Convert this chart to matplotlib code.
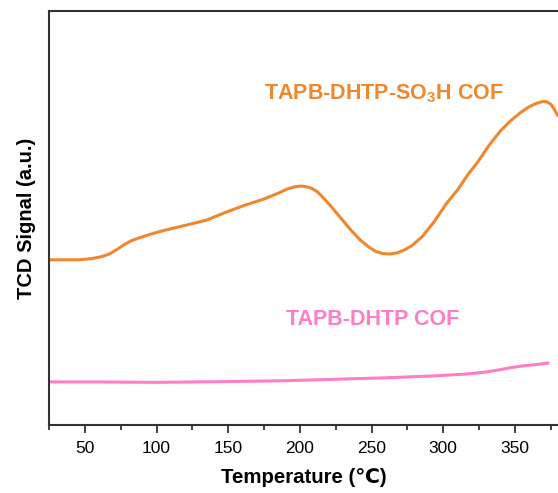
import numpy as np
import matplotlib.pyplot as plt

plt.rcParams['font.family'] = ['Liberation Sans', 'DejaVu Sans']
plt.rcParams['mathtext.fontset'] = 'custom'
plt.rcParams['mathtext.rm'] = 'Liberation Sans'
plt.rcParams['mathtext.bf'] = 'Liberation Sans:bold'

# TCD signal (arbitrary units)
temp_so3h = [25, 46, 55, 62, 67, 71, 75, 79, 83, 88, 95, 103, 110, 121, 135, 147, 160,
             175, 185, 191, 196, 200, 204, 208, 212, 216, 221, 228, 235, 242, 248, 253,
             258, 263, 268, 273, 278, 285, 293, 302, 310, 317, 324, 332, 340, 347, 354,
             360, 365, 369, 372, 375, 377, 380]
sig_so3h = [39.9, 39.9, 40.2, 40.7, 41.3, 42.1, 43.0, 43.9, 44.6, 45.2, 46.0, 46.8, 47.4,
            48.3, 49.5, 51.2, 52.9, 54.6, 56.0, 57.0, 57.5, 57.7, 57.6, 57.2, 56.4, 55.0,
            53.1, 50.2, 47.3, 44.7, 43.0, 41.9, 41.4, 41.3, 41.6, 42.3, 43.3, 45.4, 48.8,
            53.4, 56.8, 60.4, 63.5, 67.6, 71.1, 73.5, 75.5, 76.9, 77.7, 78.1, 78.1, 77.5,
            76.5, 74.6]

temp_dhtp = [25, 60, 100, 150, 190, 230, 260, 290, 316, 330, 340, 348, 356, 365, 374]
sig_dhtp = [10.4, 10.4, 10.3, 10.5, 10.7, 11.1, 11.4, 11.8, 12.3, 12.8, 13.4, 13.9, 14.3,
            14.6, 15.0]

orange = '#F0872D'
pink = '#FF7CC6'

fig = plt.figure(figsize=(5.58, 4.93), dpi=100)
ax = fig.add_axes([49 / 558, 1 - 425 / 493, 1 - 49 / 558, 414 / 493])

ax.plot(temp_so3h, sig_so3h, color=orange, lw=2.2, solid_capstyle='butt')
ax.plot(temp_dhtp, sig_dhtp, color=pink, lw=2.2, solid_capstyle='butt')

ax.text(175, 80.0, r'TAPB-DHTP-SO$_{\mathbf{3}}$H COF', color=orange, fontsize=15.5,
        fontweight='bold', ha='left', va='center')
ax.text(190, 25.6, 'TAPB-DHTP COF', color=pink, fontsize=15.5,
        fontweight='bold', ha='left', va='center')

ax.set_xlim(25, 380)
ax.set_ylim(0, 100)
ax.set_xticks(np.arange(50, 351, 50))
ax.set_xticks(np.arange(25, 380, 25), minor=True)
ax.set_yticks([])
ax.tick_params(axis='x', which='major', direction='out', length=5.5, width=1.3,
               labelsize=12.5, color='#333333', pad=6)
ax.tick_params(axis='x', which='minor', direction='out', length=3.5, width=1.3,
               color='#333333')
ax.spines['right'].set_visible(False)
for s in ['left', 'bottom', 'top']:
    ax.spines[s].set_linewidth(1.5)
    ax.spines[s].set_color('#333333')

ax.set_xlabel('Temperature (℃)', fontsize=14.7, fontweight='bold', labelpad=9)
ax.set_ylabel('TCD Signal (a.u.)', fontsize=14.5, fontweight='bold', labelpad=9)

fig.savefig('out.png', dpi=100)
